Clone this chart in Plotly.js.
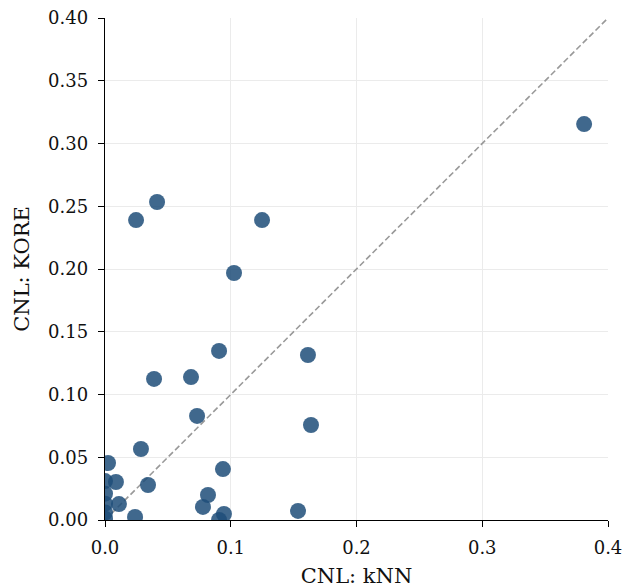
<!DOCTYPE html>
<html><head><meta charset="utf-8">
<script src="https://cdn.plot.ly/plotly-3.0.1.min.js"></script>
<style>html,body{margin:0;padding:0;background:#fff}</style>
</head><body>
<div id="chart" style="width:623px;height:588px"></div>
<script>
const knn = [0.381, 0.0414, 0.0247, 0.1249, 0.1026, 0.0907, 0.1614, 0.0684, 0.039, 0.0732, 0.1638, 0.0286, 0.0938, 0.0024, 0.0087, 0.0342, 0.0819, 0.0111, 0.0779, 0.0946, 0.1535, 0.0239, 0.0907, 0, 0, 0, 0, 0];
const kore = [0.3155, 0.2534, 0.239, 0.239, 0.1968, 0.1347, 0.1315, 0.1139, 0.1124, 0.0829, 0.0757, 0.0566, 0.0406, 0.0454, 0.0303, 0.0279, 0.0199, 0.0127, 0.0104, 0.0048, 0.0072, 0.0024, 0.0, 0.031, 0.021, 0.013, 0.006, 0.001];
const diag = [0, 0.4];
const xTitle = 'CNL: kNN';
const yTitle = 'CNL: KORE';

const traces = [
  {x: diag, y: diag, mode: 'lines', line: {color: '#999999', width: 1.6, dash: '6px,3px'}, hoverinfo: 'skip', showlegend: false},
  {x: knn, y: kore, mode: 'markers', marker: {color: 'rgba(31,78,121,0.85)', size: 16, line: {width: 0}}, showlegend: false}
];
const font = {family: 'DejaVu Serif, serif', color: '#111'};
const layout = {
  width: 623, height: 588,
  margin: {l: 105, r: 15, t: 18, b: 68},
  paper_bgcolor: '#fff', plot_bgcolor: '#fff',
  font: Object.assign({size: 18}, font),
  xaxis: {range: [0, 0.4], dtick: 0.1, tickformat: '.1f', showline: true, linecolor: '#000', linewidth: 1.2,
    ticks: 'outside', ticklen: 6, tickcolor: '#000', gridcolor: '#ebebeb', zeroline: false, ticklabelstandoff: 5,
    tickfont: {size: 18}, title: {text: xTitle, font: {size: 21}, standoff: 12}},
  yaxis: {range: [0, 0.4], dtick: 0.05, tickformat: '.2f', showline: true, linecolor: '#000', linewidth: 1.2,
    ticks: 'outside', ticklen: 6, tickcolor: '#000', gridcolor: '#ebebeb', zeroline: false, ticklabelstandoff: 6,
    tickfont: {size: 18}, title: {text: yTitle, font: {size: 21}, standoff: 12}}
};
Plotly.newPlot('chart', traces, layout, {displayModeBar: false, staticPlot: true});
</script>
</body></html>
